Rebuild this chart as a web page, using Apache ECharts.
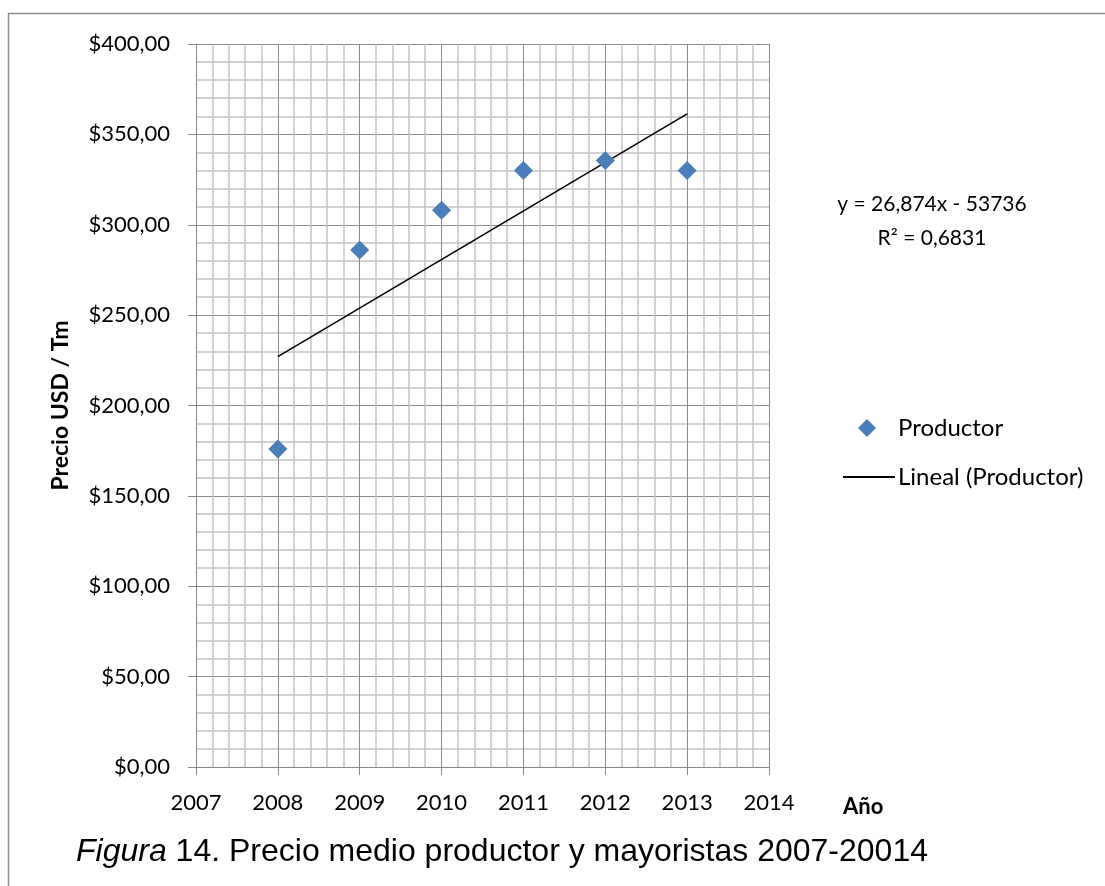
<!DOCTYPE html>
<html>
<head>
<meta charset="utf-8">
<script src="https://cdn.jsdelivr.net/npm/echarts@6/dist/echarts.min.js"></script>
<style>
  html, body { margin: 0; padding: 0; background: #fff; }
  #chart { width: 1105px; height: 886px; }
</style>
</head>
<body>
<div id="chart"></div>
<script>
// Producer average price per tonne, by year
const years = [2008, 2009, 2010, 2011, 2012, 2013];
const prices = [176, 286, 308, 330, 335.5, 330];

// Linear trend as stated in the equation label
const trendSlope = 26.874;
const trendIntercept = -53736;
const trendR2 = '0,6831';

const seriesName = 'Productor';
const trendName = 'Lineal (Productor)';

const fmtMoney = v => '$' + v.toFixed(2).replace('.', ',');
const fmtNum = v => String(v).replace('.', ',');

const trendYears = [years[0], years[years.length - 1]];
const trendData = trendYears.map(x => [x, trendSlope * x + trendIntercept]);

const labelFont = 'Lato, "Open Sans", sans-serif';
const captionFont = '"Liberation Sans", Arial, sans-serif';

const chart = echarts.init(document.getElementById('chart'), null, { renderer: 'canvas' });

chart.setOption({
  animation: false,
  backgroundColor: '#ffffff',
  grid: { left: 196, right: 336, top: 44, bottom: 119, containLabel: false },
  xAxis: {
    type: 'value',
    min: 2007, max: 2014, interval: 1,
    axisLine: { show: true, onZero: false, lineStyle: { color: '#868686', width: 1 } },
    axisTick: { show: true, length: 8, lineStyle: { color: '#868686' } },
    axisLabel: { margin: 25, color: '#000', fontSize: 22, fontFamily: labelFont, formatter: v => String(v) },
    splitLine: { show: true, lineStyle: { color: '#8a8a8a', width: 1 } },
    minorTick: { show: false, splitNumber: 5 },
    minorSplitLine: { show: true, lineStyle: { color: '#c4c4c4', width: 1.5 } }
  },
  yAxis: {
    type: 'value',
    min: 0, max: 400, interval: 50,
    name: 'Precio USD / Tm',
    nameLocation: 'middle',
    nameGap: 124,
    nameRotate: 90,
    nameTextStyle: { color: '#000', fontSize: 23, fontWeight: 'bold', fontFamily: labelFont },
    axisLine: { show: true, lineStyle: { color: '#868686', width: 1 } },
    axisTick: { show: true, length: 8, lineStyle: { color: '#868686' } },
    axisLabel: { margin: 26, color: '#000', fontSize: 22, fontFamily: labelFont, formatter: fmtMoney },
    splitLine: { show: true, lineStyle: { color: '#8a8a8a', width: 1 } },
    minorTick: { show: false, splitNumber: 5 },
    minorSplitLine: { show: true, lineStyle: { color: '#c4c4c4', width: 1.5 } }
  },
  legend: [
    {
      orient: 'vertical',
      left: 853,
      top: 411,
      itemWidth: 18,
      itemHeight: 18,
      textStyle: { color: '#000', fontSize: 24, fontFamily: labelFont, padding: [0, 0, 0, 17] },
      data: [{ name: seriesName, icon: 'diamond' }]
    },
    {
      orient: 'vertical',
      left: 838,
      top: 460,
      itemWidth: 52,
      itemHeight: 2,
      textStyle: { color: '#000', fontSize: 24, fontFamily: labelFont, padding: [0, 0, 0, -2] },
      data: [{ name: trendName, icon: 'rect' }]
    }
  ],
  series: [
    {
      name: trendName,
      type: 'line',
      data: trendData,
      symbol: 'none',
      lineStyle: { color: '#000', width: 1.5 },
      itemStyle: { color: '#000' },
      z: 3
    },
    {
      name: seriesName,
      type: 'scatter',
      data: years.map((y, i) => [y, prices[i]]),
      symbol: 'diamond',
      symbolSize: 19,
      itemStyle: { color: '#4a7ebb', opacity: 1 },
      z: 4
    }
  ],
  graphic: [
    {
      type: 'rect',
      shape: { x: 8.5, y: 13.5, width: 1200, height: 1000 },
      style: { fill: 'none', stroke: '#8c8c8c', lineWidth: 1.5 },
      silent: true
    },
    {
      type: 'text',
      style: {
        x: 932, y: 204,
        text: 'y = ' + fmtNum(trendSlope) + 'x - ' + Math.abs(trendIntercept),
        textAlign: 'center', textVerticalAlign: 'middle',
        font: '21px ' + labelFont, fill: '#000'
      }
    },
    {
      type: 'text',
      style: {
        x: 932, y: 238,
        text: 'R² = ' + trendR2,
        textAlign: 'center', textVerticalAlign: 'middle',
        font: '21px ' + labelFont, fill: '#000'
      }
    },
    {
      type: 'text',
      style: {
        x: 843, y: 807,
        text: 'Año',
        textAlign: 'left', textVerticalAlign: 'middle',
        font: 'bold 22px ' + labelFont, fill: '#000'
      }
    },
    {
      type: 'text',
      style: {
        x: 76, y: 852,
        text: '{i|Figura} 14. Precio medio productor y mayoristas 2007-20014',
        textAlign: 'left', textVerticalAlign: 'middle',
        font: '32px ' + captionFont, fill: '#000',
        rich: {
          i: { fontStyle: 'italic', fontSize: 32, fontFamily: captionFont, fill: '#000' }
        }
      }
    }
  ]
});
</script>
</body>
</html>
